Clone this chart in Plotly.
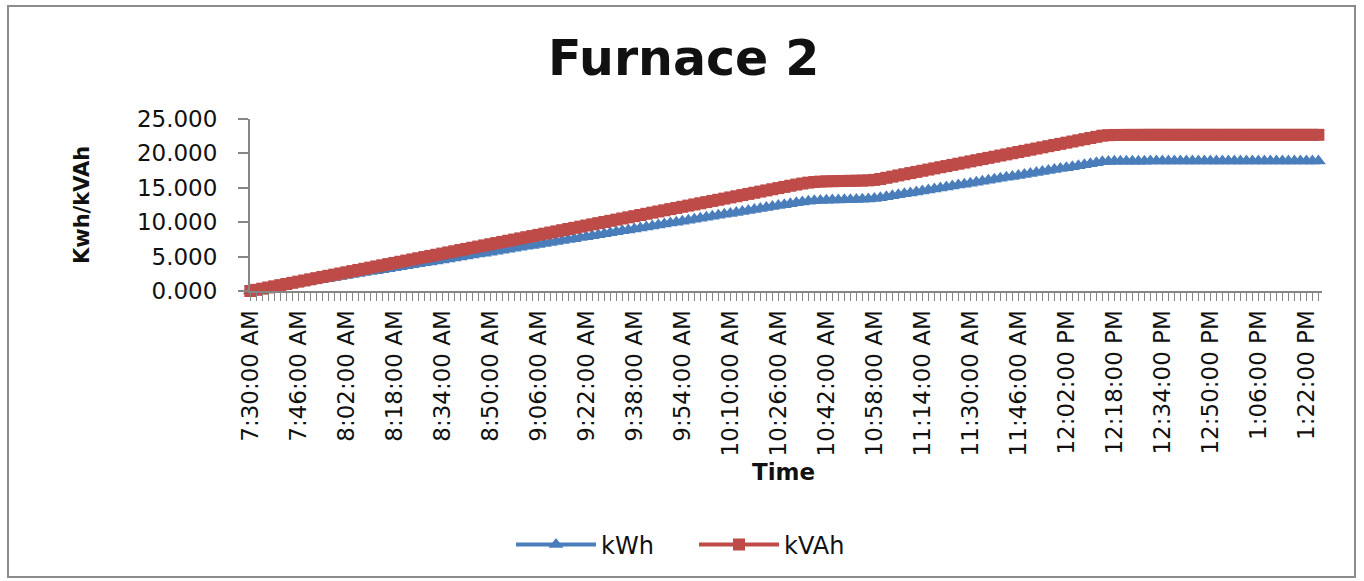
import datetime as dt
import plotly.graph_objects as go

# ---- data -------------------------------------------------------------
start = dt.datetime(2000, 1, 1, 7, 30)
n_points = 179
times = [(start + dt.timedelta(minutes=2 * i)) for i in range(n_points)]
categories = [t.strftime("%I:%M:%S %p").lstrip("0") for t in times]

kwh = [
    0.00, 0.14, 0.28, 0.42, 0.56, 0.71, 0.85, 0.99, 1.13, 1.27,
    1.41, 1.55, 1.69, 1.83, 1.97, 2.12, 2.26, 2.40, 2.54, 2.68,
    2.82, 2.96, 3.10, 3.24, 3.38, 3.53, 3.67, 3.81, 3.95, 4.09,
    4.23, 4.37, 4.51, 4.65, 4.79, 4.94, 5.08, 5.22, 5.36, 5.50,
    5.64, 5.78, 5.92, 6.06, 6.20, 6.35, 6.49, 6.63, 6.77, 6.91,
    7.05, 7.19, 7.33, 7.47, 7.61, 7.76, 7.90, 8.04, 8.18, 8.32,
    8.46, 8.60, 8.74, 8.88, 9.02, 9.17, 9.31, 9.45, 9.59, 9.73,
    9.87, 10.01, 10.15, 10.29, 10.43, 10.58, 10.72, 10.86, 11.00, 11.14,
    11.28, 11.42, 11.56, 11.70, 11.84, 11.99, 12.13, 12.27, 12.41, 12.55,
    12.69, 12.83, 12.95, 13.05, 13.12, 13.17, 13.20, 13.22, 13.24, 13.26,
    13.28, 13.30, 13.33, 13.37, 13.45, 13.56, 13.70, 13.84, 13.98, 14.12,
    14.26, 14.40, 14.54, 14.68, 14.83, 14.97, 15.11, 15.25, 15.39, 15.53,
    15.67, 15.81, 15.95, 16.09, 16.24, 16.38, 16.52, 16.66, 16.80, 16.94,
    17.08, 17.22, 17.36, 17.50, 17.65, 17.79, 17.93, 18.07, 18.21, 18.35,
    18.49, 18.63, 18.77, 18.83, 18.86, 18.86, 18.87, 18.87, 18.87, 18.87,
    18.88, 18.88, 18.88, 18.88, 18.88, 18.88, 18.88, 18.88, 18.88, 18.88,
    18.88, 18.88, 18.88, 18.88, 18.88, 18.88, 18.88, 18.88, 18.88, 18.88,
    18.88, 18.88, 18.88, 18.88, 18.88, 18.88, 18.88, 18.88, 18.88,
]

kvah = [
    0.00, 0.17, 0.34, 0.51, 0.68, 0.85, 1.02, 1.19, 1.36, 1.53,
    1.70, 1.87, 2.04, 2.21, 2.38, 2.55, 2.72, 2.89, 3.06, 3.23,
    3.40, 3.57, 3.74, 3.91, 4.08, 4.25, 4.42, 4.59, 4.76, 4.93,
    5.10, 5.27, 5.44, 5.61, 5.78, 5.95, 6.12, 6.29, 6.46, 6.63,
    6.80, 6.97, 7.14, 7.31, 7.48, 7.65, 7.82, 7.99, 8.16, 8.33,
    8.50, 8.67, 8.84, 9.01, 9.18, 9.35, 9.52, 9.69, 9.86, 10.03,
    10.20, 10.37, 10.54, 10.71, 10.88, 11.05, 11.22, 11.39, 11.56, 11.73,
    11.90, 12.07, 12.24, 12.41, 12.58, 12.75, 12.92, 13.09, 13.26, 13.43,
    13.60, 13.77, 13.94, 14.11, 14.28, 14.45, 14.62, 14.79, 14.96, 15.13,
    15.30, 15.47, 15.62, 15.75, 15.84, 15.90, 15.94, 15.96, 15.98, 16.00,
    16.01, 16.03, 16.05, 16.08, 16.15, 16.28, 16.45, 16.62, 16.80, 16.97,
    17.14, 17.31, 17.48, 17.65, 17.82, 17.99, 18.16, 18.33, 18.50, 18.67,
    18.84, 19.01, 19.18, 19.35, 19.52, 19.69, 19.86, 20.03, 20.20, 20.37,
    20.54, 20.71, 20.88, 21.05, 21.22, 21.39, 21.56, 21.73, 21.90, 22.07,
    22.24, 22.41, 22.58, 22.65, 22.68, 22.68, 22.69, 22.69, 22.69, 22.70,
    22.70, 22.70, 22.70, 22.70, 22.70, 22.70, 22.70, 22.70, 22.70, 22.70,
    22.70, 22.70, 22.70, 22.70, 22.70, 22.70, 22.70, 22.70, 22.70, 22.70,
    22.70, 22.70, 22.70, 22.70, 22.70, 22.70, 22.70, 22.70, 22.70,
]

label_every = 8
tick_text = [c if i % label_every == 0 else "" for i, c in enumerate(categories)]
y_ticks = [0, 5, 10, 15, 20, 25]

# ---- geometry helpers (pixel -> paper) ---------------------------------
W, H = 1364, 581
PL, PR, PT, PB = 250, 1322, 119, 291


def px(x):
    return (x - PL) / (PR - PL)


def py(y):
    return (PB - y) / (PB - PT)


BLUE = "#4A7EBB"
RED = "#BE4B48"
TXT = "#111111"
AXIS = "#868686"

fig = go.Figure()
fig.add_trace(go.Scatter(
    x=categories, y=kwh, name="kWh", mode="lines+markers",
    line=dict(color=BLUE, width=4),
    marker=dict(symbol="triangle-up", size=13, color=BLUE),
    cliponaxis=False,
))
fig.add_trace(go.Scatter(
    x=categories, y=kvah, name="kVAh", mode="lines+markers",
    line=dict(color=RED, width=4),
    marker=dict(symbol="square", size=12, color=RED),
    cliponaxis=False,
))

fig.update_layout(
    width=W, height=H,
    margin=dict(l=PL, r=W - PR, t=PT, b=H - PB, autoexpand=False),
    paper_bgcolor="white", plot_bgcolor="white",
    font=dict(family="DejaVu Sans", color=TXT),
    showlegend=True,
    legend=dict(
        orientation="h", x=px(694), y=py(545), xanchor="center", yanchor="middle",
        font=dict(family="DejaVu Sans", size=24, color=TXT),
        itemwidth=80, entrywidth=88, entrywidthmode="pixels",
        bgcolor="rgba(0,0,0,0)",
    ),
    xaxis=dict(
        type="category", range=[-0.05, n_points - 1 + 0.6],
        tickmode="array", tickvals=categories, ticktext=tick_text,
        tickangle=-90, ticks="outside", ticklen=8, tickcolor=AXIS, tickwidth=1,
        tickfont=dict(family="DejaVu Sans", size=23, color=TXT),
        showline=True, linecolor=AXIS, linewidth=2, showgrid=False, zeroline=False,
    ),
    yaxis=dict(
        range=[0, 25], tickmode="array", tickvals=y_ticks, tickformat=".3f",
        ticks="outside", ticklen=10, tickcolor=AXIS, tickwidth=2,
        ticklabelstandoff=16,
        tickfont=dict(family="DejaVu Sans", size=23, color=TXT),
        showline=True, linecolor=AXIS, linewidth=2, showgrid=False, zeroline=False,
    ),
    annotations=[
        dict(text="<b>Furnace 2</b>", x=px(683), y=py(58), xref="paper", yref="paper",
             showarrow=False, xanchor="center", yanchor="middle",
             font=dict(family="DejaVu Sans", size=49, color=TXT)),
        dict(text="<b>Kwh/kVAh</b>", x=px(82), y=py(205), xref="paper", yref="paper",
             showarrow=False, xanchor="center", yanchor="middle", textangle=-90,
             font=dict(family="DejaVu Sans", size=21, color=TXT)),
        dict(text="<b>Time</b>", x=px(783), y=py(472), xref="paper", yref="paper",
             showarrow=False, xanchor="center", yanchor="middle",
             font=dict(family="DejaVu Sans", size=23, color=TXT)),
    ],
    shapes=[
        dict(type="rect", xref="paper", yref="paper",
             x0=px(8), x1=px(1355), y0=py(577), y1=py(6),
             line=dict(color="#8C8C8C", width=2), fillcolor="rgba(0,0,0,0)", layer="below"),
    ],
)

fig.write_html(
    "out.html",
    config={"displayModeBar": False},
    post_script="document.body.style.margin='0px';document.body.style.padding='0px';",
)
